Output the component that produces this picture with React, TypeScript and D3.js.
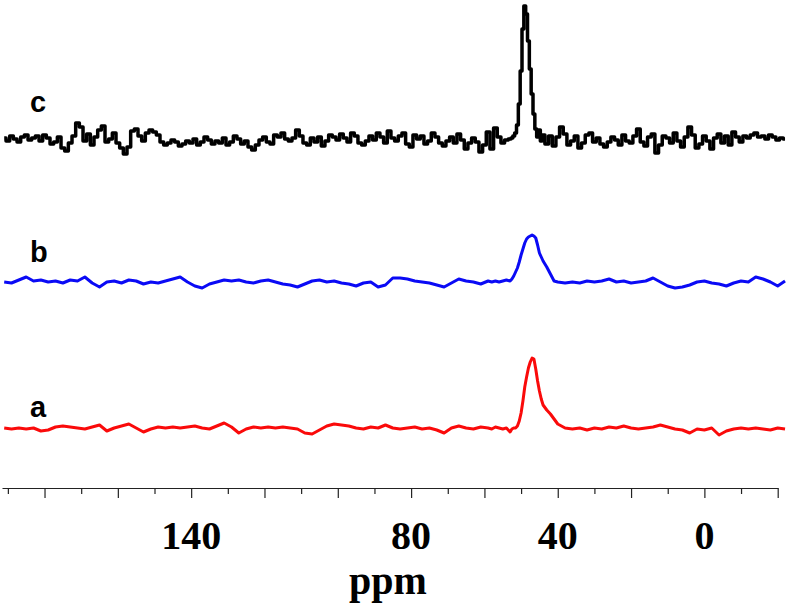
import { useEffect, useRef } from 'react';
import * as d3 from 'd3';

// chemical shift grid (ppm) for spectra a and b, denser across the resonance
const ppm = [
  191, 189, 187, 185, 183, 181, 179, 177, 175, 173, 171, 169, 167, 165, 163, 161, 159, 157, 155, 153,
  151, 149, 147, 145, 143, 141, 139, 137, 135, 133, 131, 129, 127, 125, 123, 121, 119, 117, 115, 113,
  111, 109, 107, 105, 103, 101, 99, 97, 95, 93, 91, 89, 87, 85, 83, 81, 79, 77, 75, 73,
  71, 69, 67, 65, 63, 61, 59,
  58, 57, 56, 55, 54, 53, 52.5, 52, 51.5, 51, 50.5, 50, 49.5, 49, 48.5, 48, 47.5, 47, 46.5, 46,
  45.5, 45, 44.5, 44, 43, 42, 41, 40,
  38, 36, 34, 32, 30, 28, 26, 24, 22, 20, 18, 16, 14, 12, 10, 8, 6, 4, 2, 0,
  -2, -4, -6, -8, -10, -12, -14, -16, -18, -20, -22,
];

// finer grid for spectrum c (noisier trace)
const ppmC = [
  191, 190, 189, 188, 187, 186, 185, 184, 183, 182, 181, 180, 179, 178, 177, 176, 175, 174, 173, 172,
  171, 170, 169, 168, 167, 166, 165, 164, 163, 162, 161, 160, 159, 158, 157, 156, 155, 154, 153, 152,
  151, 150, 149, 148, 147, 146, 145, 144, 143, 142, 141, 140, 139, 138, 137, 136, 135, 134, 133, 132,
  131, 130, 129, 128, 127, 126, 125, 124, 123, 122, 121, 120, 119, 118, 117, 116, 115, 114, 113, 112,
  111, 110, 109, 108, 107, 106, 105, 104, 103, 102, 101, 100, 99, 98, 97, 96, 95, 94, 93, 92,
  91, 90, 89, 88, 87, 86, 85, 84, 83, 82, 81, 80, 79, 78, 77, 76, 75, 74, 73, 72,
  71, 70, 69, 68, 67, 66, 65, 64, 63, 62, 61, 60, 59,
  58, 57, 56, 55, 54, 53, 52.5, 52, 51.5, 51, 50.5, 50, 49.5, 49, 48.5, 48, 47.5, 47, 46.5, 46,
  45.5, 45, 44.5, 44, 43, 42, 41, 40,
  39, 38, 37, 36, 35, 34, 33, 32, 31, 30, 29, 28, 27, 26, 25, 24, 23, 22, 21, 20,
  19, 18, 17, 16, 15, 14, 13, 12, 11, 10, 9, 8, 7, 6, 5, 4, 3, 2, 1, 0,
  -1, -2, -3, -4, -5, -6, -7, -8, -9, -10, -11, -12, -13, -14, -15, -16, -17, -18, -19, -20,
  -21, -22,
];

// spectrum a (red)
const spectrumA = [
  1, 0, 1, 0, 1, -2, -1, 2, 3, 2, 1, 0, 2, 4, -2, 1, 3, 5, 1, -3,
  0, 2, 1, 2, 1, 2, 3, 1, 0, 3, 6, 2, -4, 0, 2, 1, 2, 1, 2, 1,
  0, -4, -5, -1, 3, 5, 4, 3, 1, 0, 2, 1, 4, 1, 0, 1, 2, 0, 1, -1,
  -4, 1, 3, 1, 0, 2, 1,
  0, 2, 1, 0, 1, -3, 0, 1, 1, 3, 8, 16, 28, 42, 52, 61, 67, 71, 70, 60,
  48, 38, 30, 24, 19, 15, 10, 5,
  1, 0, 1, -1, 1, 0, 2, 1, 3, 1, 0, 1, 2, 4, 2, 0, -1, -4, 0, -1,
  1, -6, -2, 0, 1, 0, 1, 0, -1, 1, 0,
];

// spectrum b (blue)
const spectrumB = [
  1, 0, 3, 6, 2, 3, 1, 2, 0, 3, 2, 6, 0, -4, 1, 2, 0, 3, 2, -1,
  1, 0, 2, 4, 6, 1, -3, -5, -1, 1, 3, 2, 3, 1, 0, 2, 3, 1, -1, -2,
  -4, -1, 2, 3, 1, 2, 0, -1, -3, 0, 1, -4, -2, 5, 5, 4, 2, 1, 0, -2,
  -4, 0, 4, 2, 1, -1, 2,
  1, 2, 1, 2, 3, 2, 4, 7, 11, 15, 21, 28, 34, 40, 44, 46, 47, 48, 47, 45,
  38, 30, 26, 22, 16, 9, 2, 1,
  0, 1, 0, 2, 1, 2, 4, 1, 2, 0, 1, 2, 5, 1, -3, -5, -4, -2, 1, 2,
  0, -1, -3, 0, 2, 1, 6, 4, 1, -3, 2,
];

// spectrum c (black)
const spectrumC = [
  1, -2, 3, 0, -3, 2, 4, -1, 1, 3, -2, 4, 1, -5, -3, 2, -9, -12, -4, 3,
  16, 12, -2, 5, -6, 2, 9, 13, -3, 0, 6, -4, -9, -15, -8, 8, 10, 3, -2, 6,
  9, 7, 4, -3, -6, -4, -1, -3, -7, -5, -2, -4, 0, -6, -3, 2, -1, -5, -2, -4,
  1, -6, -3, 3, 0, -5, -2, -8, -11, -6, -1, 2, -3, -5, 4, 2, 6, 0, -2, 1,
  9, 3, -4, -6, 1, -3, 2, -7, -2, 4, 2, -1, 5, 1, -3, 6, 3, -4, -6, -2,
  3, -1, 6, 2, -4, 8, 1, -2, 3, 6, -5, -8, 4, 0, 3, -5, -2, 6, 2, -4,
  -7, -2, 2, -4, 5, -1, -10, -4, 1, -3, -13, -6, 7,
  -10, 11, 2, -4, -1, 0, 1, 3, 6, 14, 35, 68, 110, 133, 125, 98, 70, 45, 25, 10,
  2, 9, -2, 4, -5, 3, -7, 2,
  12, 5, -6, -2, 3, -9, -4, 4, 6, -3, 1, -5, -8, -3, 2, -1, -6, 4, -2, -4,
  3, 10, -3, -7, 2, 5, -14, -6, 3, 1, -4, 6, -2, -8, 2, 12, 4, -9, -5, 3,
  -2, -10, 1, 5, -4, 3, -6, 7, 2, -3, 3, 1, 4, 6, 2, 3, 0, 4, 2, -1,
  1, 0,
];

const majorTicks = [180, 160, 140, 120, 100, 80, 60, 40, 20, 0, -20];
const minorTicks = [190, 170, 150, 130, 110, 90, 70, 50, 30, 10, -10];
const tickLabels = [140, 80, 40, 0];

export default function App() {
  const svgRef = useRef<SVGSVGElement>(null);

  useEffect(() => {
    if (!svgRef.current) return;
    const svg = d3.select(svgRef.current);
    svg.selectAll('*').remove();

    const x = d3.scaleLinear().domain([191.6, -20]).range([2, 777.7]);
    const axisY = 488;

    const series = [
      { grid: ppmC, values: spectrumC, base: 139, color: '#000000', width: 3.5, label: 'c', labelY: 112, curve: d3.curveStep },
      { grid: ppm, values: spectrumB, base: 283, color: '#0a0af5', width: 3, label: 'b', labelY: 262, curve: d3.curveLinear },
      { grid: ppm, values: spectrumA, base: 429, color: '#fa0a0a', width: 3, label: 'a', labelY: 417, curve: d3.curveLinear },
    ];

    series.forEach((s) => {
      const y = d3.scaleLinear().domain([0, 100]).range([s.base, s.base - 100]);
      const line = d3.line<number>()
        .x((_, i) => x(s.grid[i]))
        .y((d) => y(d))
        .curve(s.curve);
      svg.append('path').datum(s.values)
        .attr('fill', 'none').attr('stroke', s.color).attr('stroke-width', s.width)
        .attr('stroke-linejoin', 'round').attr('d', line);
      svg.append('text').attr('x', 30).attr('y', s.labelY)
        .attr('font-family', '"Liberation Sans", Arial, sans-serif').attr('font-weight', 'bold')
        .attr('font-size', 29).attr('fill', '#000').text(s.label);
    });

    // x axis: long ticks every 20 ppm, short ones in between
    svg.append('g').attr('transform', `translate(0,${axisY})`)
      .call(d3.axisBottom(x).tickValues(majorTicks).tickSize(10).tickSizeOuter(0).tickFormat(() => ''))
      .call((gg) => {
        gg.select('.domain').attr('stroke', '#222').attr('stroke-width', 1.2);
        gg.selectAll('.tick line').attr('stroke', '#222').attr('stroke-width', 1.2);
      });
    svg.append('g').attr('transform', `translate(0,${axisY})`)
      .call(d3.axisBottom(x).tickValues(minorTicks).tickSize(6).tickSizeOuter(0).tickFormat(() => ''))
      .call((gg) => {
        gg.select('.domain').remove();
        gg.selectAll('.tick line').attr('stroke', '#222').attr('stroke-width', 1.2);
      });

    svg.append('g').selectAll('text').data(tickLabels).enter().append('text')
      .attr('x', (d) => x(d)).attr('y', 549).attr('text-anchor', 'middle')
      .attr('font-family', '"Liberation Serif", "Times New Roman", serif').attr('font-weight', 'bold')
      .attr('font-size', 40).attr('fill', '#000').text((d) => d);

    svg.append('text').attr('x', 388).attr('y', 594).attr('text-anchor', 'middle')
      .attr('font-family', '"Liberation Serif", "Times New Roman", serif').attr('font-weight', 'bold')
      .attr('font-size', 40).attr('fill', '#000').text('ppm');
  }, []);

  return (
    <svg ref={svgRef} width={787} height={604}
      style={{ position: 'absolute', left: 0, top: 0, background: '#fff' }} />
  );
}
